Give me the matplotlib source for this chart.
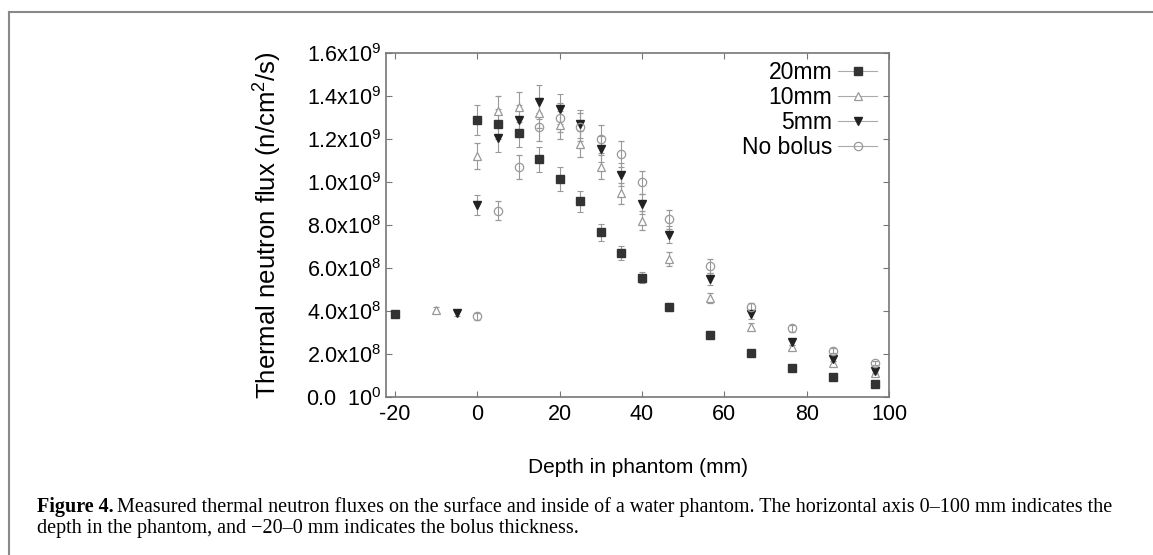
import matplotlib
matplotlib.use("Agg")
import matplotlib.pyplot as plt
from matplotlib.lines import Line2D

plt.rcParams['font.family'] = ['Liberation Sans', 'DejaVu Sans']
plt.rcParams['mathtext.fontset'] = 'custom'
plt.rcParams['mathtext.rm'] = 'Liberation Sans'
plt.rcParams['mathtext.it'] = 'Liberation Sans:italic'

# Depth positions (mm) and fluxes in units of 1e9 n/cm^2/s
depth = [0, 5, 10, 15, 20, 25, 30, 35, 40, 46.5, 56.5, 66.5, 76.5, 86.5, 96.5]
depth_nb = depth[1:]

flux_20 = [1.29, 1.27, 1.23, 1.105, 1.015, 0.91, 0.766, 0.668, 0.555, 0.419, 0.29, 0.203, 0.136, 0.092, 0.06]
err_20 = [0.07, 0.07, 0.065, 0.06, 0.055, 0.048, 0.04, 0.033, 0.027, 0.02, 0.015, 0.011, 0.008, 0.006, 0.005]

flux_10 = [1.12, 1.33, 1.35, 1.32, 1.265, 1.175, 1.07, 0.947, 0.82, 0.642, 0.462, 0.327, 0.231, 0.157, 0.113]
err_10 = [0.06, 0.072, 0.07, 0.07, 0.065, 0.06, 0.055, 0.05, 0.043, 0.033, 0.024, 0.017, 0.012, 0.009, 0.007]

flux_5 = [0.893, 1.206, 1.288, 1.373, 1.34, 1.27, 1.153, 1.034, 0.896, 0.755, 0.549, 0.385, 0.257, 0.177, 0.12]
err_5 = [0.047, 0.065, 0.068, 0.08, 0.07, 0.066, 0.06, 0.054, 0.047, 0.04, 0.029, 0.02, 0.014, 0.01, 0.007]

flux_nb = [0.867, 1.071, 1.256, 1.30, 1.255, 1.20, 1.13, 0.998, 0.826, 0.608, 0.417, 0.32, 0.215, 0.16]
err_nb = [0.046, 0.056, 0.066, 0.068, 0.066, 0.063, 0.06, 0.052, 0.043, 0.032, 0.022, 0.017, 0.012, 0.009]

# surface points (bolus surfaces)
surf_x = {"20mm": -20, "10mm": -10, "5mm": -5, "No bolus": 0}
surf_y = {"20mm": 0.385, "10mm": 0.405, "5mm": 0.39, "No bolus": 0.375}
surf_err = {"20mm": 0.012, "10mm": 0.015, "5mm": 0.015, "No bolus": 0.015}

yticks = [0, 0.2, 0.4, 0.6, 0.8, 1.0, 1.2, 1.4, 1.6]
ytick_labels = ['0.0  10$^0$', '2.0x10$^8$', '4.0x10$^8$', '6.0x10$^8$', '8.0x10$^8$',
                '1.0x10$^9$', '1.2x10$^9$', '1.4x10$^9$', '1.6x10$^9$']
xticks = [-20, 0, 20, 40, 60, 80, 100]
xtick_labels = ['-20', '0', '20', '40', '60', '80', '100']

series = [
    ("20mm", depth, flux_20, err_20, dict(marker='s', ms=6, mfc='#333333', mec='#333333')),
    ("10mm", depth, flux_10, err_10, dict(marker='^', ms=6, mfc='white', mec='#999999', mew=0.9)),
    ("5mm", depth, flux_5, err_5, dict(marker='v', ms=6, mfc='#222222', mec='#222222')),
    ("No bolus", depth_nb, flux_nb, err_nb, dict(marker='o', ms=6, mfc='none', mec='#999999', mew=0.9)),
]

fig = plt.figure(figsize=(11.53, 5.55), dpi=100)
ax = fig.add_axes([386 / 1153, 1 - 397 / 555, (889 - 386) / 1153, (397 - 53) / 555])

handles = []
for name, xs, ys, es, st in series:
    xx = [surf_x[name]] + list(xs)
    yy = [surf_y[name]] + list(ys)
    ee = [surf_err[name]] + list(es)
    ax.errorbar(xx, yy, yerr=ee, ls='none', ecolor='#999999', elinewidth=0.8,
                capsize=2.5, capthick=0.8, zorder=3, **st)
    handles.append(Line2D([], [], color='#aaaaaa', lw=0.8, **st))

ax.set_xlim(-22.2, 99.5)
ax.set_ylim(0, 1.6)
ax.set_xticks(xticks)
ax.set_xticklabels(xtick_labels)
ax.set_yticks(yticks)
ax.set_yticklabels(ytick_labels)
ax.tick_params(direction='in', length=4, width=0.8, color='#777777',
               top=True, right=True, labelsize=15.5)
ax.tick_params(axis='y', pad=3)
ax.tick_params(axis='x', pad=5)
for sp in ax.spines.values():
    sp.set_color('#777777')
    sp.set_linewidth(1.2)

ax.set_xlabel("Depth in phantom (mm)", fontsize=15, labelpad=24)
ax.set_ylabel("Thermal neutron flux (n/cm$^2$/s)", fontsize=18.5, labelpad=16)

leg = ax.legend(handles=handles, labels=[s[0] for s in series], loc='upper right',
                bbox_to_anchor=((877 - 386) / 503, (397 - 61) / 344),
                markerfirst=False, frameon=False, fontsize=16.5, handlelength=1.7,
                labelspacing=0.09, borderaxespad=0, borderpad=0, handletextpad=0.25)

# caption
cap_kw = dict(fontsize=14.5, family='Liberation Serif', va='center')
t_bold = fig.text(37 / 1153, 1 - 507 / 555, "Figure 4.", weight='bold', **cap_kw)
fig.canvas.draw()
bb = t_bold.get_window_extent()
fig.text(bb.x1 / fig.bbox.width + 3 / 1153, 1 - 507 / 555,
         "Measured thermal neutron fluxes on the surface and inside of a water phantom. "
         "The horizontal axis 0\u2013100 mm indicates the", **cap_kw)
fig.text(37 / 1153, 1 - 529 / 555,
         "depth in the phantom, and \u221220\u20130 mm indicates the bolus thickness.", **cap_kw)

# page frame
fig.add_artist(Line2D([9 / 1153, 9 / 1153], [0, 1 - 12 / 555], color='#888888', lw=1.5,
                      transform=fig.transFigure))
fig.add_artist(Line2D([9 / 1153, 1], [1 - 12 / 555, 1 - 12 / 555], color='#888888', lw=1.5,
                      transform=fig.transFigure))

fig.savefig("out.png", dpi=100)
